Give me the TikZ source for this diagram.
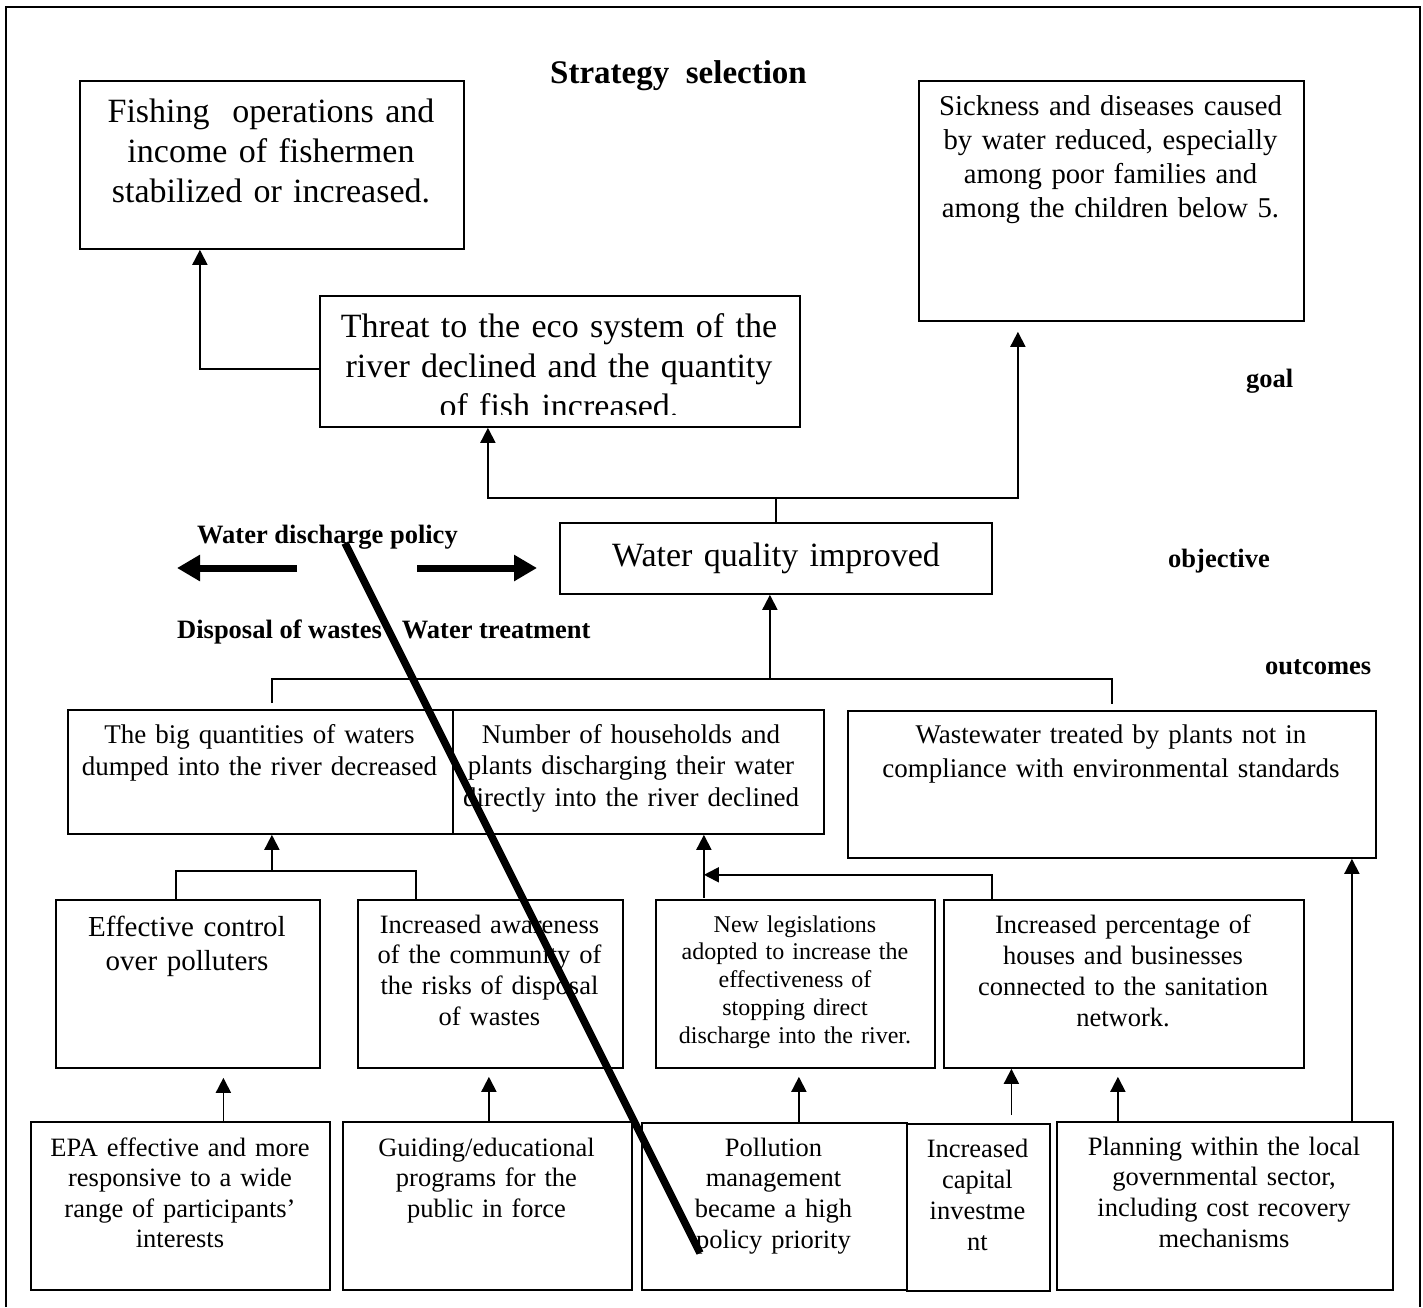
\documentclass[tikz,border=0pt]{standalone}
\usepackage{fontspec}
\setmainfont{Liberation Serif}
\usetikzlibrary{arrows.meta}
\tikzset{
  boxst/.style={draw, line width=1.8pt, inner sep=0pt, rectangle},
  txt/.style={anchor=base, inner sep=0pt, text width=700pt, align=center},
  lbl/.style={anchor=base west, inner sep=0pt},
  conn/.style={line width=1.8pt},
  arr/.style={line width=1.8pt, -{Triangle[length=15pt,width=15pt]}},
  bigarr/.style={line width=7pt, -{Triangle[length=23pt,width=25pt]}},
  thickslash/.style={line width=7.5pt},
}
\newcommand{\flowbox}[5]{\node[boxst, anchor=north west, minimum width={(#4)-(#2)}, minimum height={(#5)-(#3)}] (#1) at (#2,-#3) {};}
\begin{document}
\begin{tikzpicture}[x=1pt,y=1pt]
\useasboundingbox (0,0) rectangle (1423,-1307);
\draw[line width=2pt] (6,-1307) -- (6,-7) -- (1419.5,-7) -- (1419.5,-1307);

% boxes
\flowbox{fish}{79}{80}{463}{248}
\flowbox{sick}{918}{80}{1303}{320}
\flowbox{threat}{319}{295}{799}{426}
\flowbox{wq}{559}{522}{991}{593}
\flowbox{big}{67}{709}{452}{833}
\flowbox{nh}{452}{709}{823}{833}
\flowbox{waste}{847}{710}{1375}{857}
\flowbox{eff}{55}{899}{319}{1067}
\flowbox{aware}{357}{899}{622}{1067}
\flowbox{newl}{655}{899}{934}{1067}
\flowbox{incp}{943}{899}{1303}{1067}
\flowbox{epa}{30}{1121}{329}{1289}
\flowbox{guid}{342}{1121}{631}{1289}
\flowbox{poll}{641}{1122}{906}{1289}
\flowbox{cap}{906}{1123}{1049}{1290}
\flowbox{plan}{1056}{1121}{1392}{1289}

% box texts
\node[txt, font=\fontsize{34}{40}\selectfont] (fish-t) at (271,-122) {Fishing~ operations and\\ income of fishermen\\ stabilized or increased.};
\node[txt, font=\fontsize{28.7}{34.3}\selectfont] (sick-t) at (1110.5,-115) {Sickness and diseases caused\\ by water reduced, especially\\ among poor families and\\ among the children below 5.};
\begin{scope}
\clip (threat.north west) rectangle ([yshift=13]threat.south east);
\node[txt, font=\fontsize{34}{40}\selectfont] (threat-t) at (559,-337) {Threat to the eco system of the\\ river declined and the quantity\\ of fish increased.};
\end{scope}
\node[txt, font=\fontsize{34}{40}\selectfont] (wq-t) at (776,-566) {Water quality improved};
\node[txt, font=\fontsize{27}{32}\selectfont] (big-t) at (259.5,-743) {The big quantities of waters\\ dumped into the river decreased};
\node[txt, font=\fontsize{27}{31.5}\selectfont] (nh-t) at (631,-743) {Number of households and\\ plants discharging their water\\ directly into the river declined};
\node[txt, font=\fontsize{27}{34}\selectfont] (waste-t) at (1111,-743) {Wastewater treated by plants not in\\ compliance with environmental standards};
\node[txt, font=\fontsize{29}{34}\selectfont] (eff-t) at (187,-936) {Effective control\\ over polluters};
\node[txt, font=\fontsize{26.5}{30.7}\selectfont] (aware-t) at (489.5,-933) {Increased awareness\\ of the community of\\ the risks of disposal\\ of wastes};
\node[txt, font=\fontsize{24}{27.75}\selectfont] (newl-t) at (795,-932) {New legislations\\ adopted to increase the\\ effectiveness of\\ stopping direct\\ discharge into the river.};
\node[txt, font=\fontsize{26.5}{31}\selectfont] (incp-t) at (1123,-933) {Increased percentage of\\ houses and businesses\\ connected to the sanitation\\ network.};
\node[txt, font=\fontsize{26.5}{30.5}\selectfont] (epa-t) at (180,-1156) {EPA effective and more\\ responsive to a wide\\ range of participants’\\ interests};
\node[txt, font=\fontsize{26.5}{30.5}\selectfont] (guid-t) at (486.5,-1156) {Guiding/educational\\ programs for the\\ public in force};
\node[txt, font=\fontsize{26.5}{30.7}\selectfont] (poll-t) at (773.5,-1156) {Pollution\\ management\\ became a high\\ policy priority};
\node[txt, font=\fontsize{26.5}{31}\selectfont] (cap-t) at (977.5,-1157) {Increased\\ capital\\ investme\\ nt};
\node[txt, font=\fontsize{26.5}{30.7}\selectfont] (plan-t) at (1224,-1155) {Planning within the local\\ governmental sector,\\ including cost recovery\\ mechanisms};

% labels
\node[lbl, font=\bfseries\fontsize{33}{38}\selectfont] (title) at (550,-83) {Strategy~ selection};
\node[lbl, font=\bfseries\fontsize{26.5}{30}\selectfont] (goal) at (1246,-387) {goal};
\node[lbl, font=\bfseries\fontsize{26.5}{30}\selectfont] (objective) at (1168,-567) {objective};
\node[lbl, font=\bfseries\fontsize{26.5}{30}\selectfont] (outcomes) at (1265,-674) {outcomes};
\node[lbl, font=\bfseries\fontsize{26.5}{30}\selectfont] (wdp) at (197,-543) {Water discharge policy};
\node[lbl, font=\bfseries\fontsize{26.5}{30}\selectfont] (dow) at (177,-638) {Disposal of wastes};
\node[lbl, font=\bfseries\fontsize{26.5}{30}\selectfont] (wt) at (401.7,-638) {Water treatment};

% connectors
\draw[arr] ([yshift=-7.5]threat.west) -| ([xshift=-72]fish.south);
\draw[arr] (wq.north) -- ++(0,24) -| ([xshift=-72]threat.south);
\draw[arr] (wq.north) ++(0,24) -| ([xshift=-93.5,yshift=-10]sick.south);

\coordinate (bl) at ([xshift=11.5,yshift=6]big.north);
\coordinate (br) at ([yshift=6]waste.north);
\draw[conn] (bl) -- ++(0,24) -| (br);
\draw[arr] ([xshift=-6,yshift=-85]wq.south) -- ([xshift=-6]wq.south);

\draw[conn] ([xshift=-12]eff.north) |- ([xshift=-74.5,yshift=28]aware.north) -- ([xshift=-74.5]aware.north);
\draw[arr] ([xshift=11.5,yshift=-37]big.south) -- ([xshift=11.5]big.south);

\draw[arr] ([xshift=65.5,yshift=-63]nh.south) -- ([xshift=65.5]nh.south);
\draw[arr] ([xshift=-132]incp.north) |- ([xshift=65.5,yshift=-40]nh.south);

\draw[arr] ([xshift=43]epa.north) -- ([xshift=35.5,yshift=-9]eff.south);
\draw[arr] ([xshift=1.5]guid.north) -- ([xshift=-1.5,yshift=-8]aware.south);
\draw[arr] ([xshift=24.5]poll.north) -- ([xshift=3.5,yshift=-8]newl.south);
\draw[arr] ([xshift=33,yshift=8]cap.north) -- ([xshift=-112.5]incp.south);
\draw[arr] ([xshift=-107]plan.north) -- ([xshift=-6,yshift=-8]incp.south);
\draw[arr] ([xshift=127]plan.north) -- ([xshift=240]waste.south);

% big arrows
\coordinate (la1) at (297,-568);
\coordinate (la2) at (177,-568);
\draw[bigarr] (la1) -- (la2);
\coordinate (ra1) at (417,-568);
\coordinate (ra2) at (537,-568);
\draw[bigarr] (ra1) -- (ra2);

% thick slash
\coordinate (d1) at (345,-543);
\coordinate (d2) at (700,-1253);
\draw[thickslash] (d1) -- (d2);
\end{tikzpicture}
\end{document}
